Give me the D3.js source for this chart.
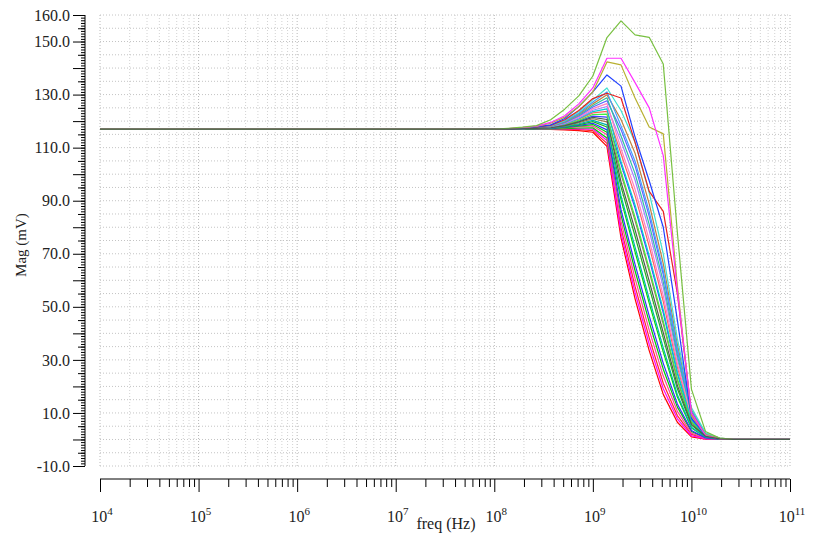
<!DOCTYPE html>
<html>
<head>
<meta charset="utf-8">
<script src="https://cdn.jsdelivr.net/npm/d3@7"></script>
<style>
  body { margin: 0; background: #ffffff; }
  svg { display: block; font-family: "Liberation Serif", "DejaVu Serif", serif; }
</style>
</head>
<body>
<svg id="chart" width="814" height="537"></svg>
<script>
// Sweep frequencies (Hz) shared by every trace
const freqs = [1e4, 1e8, 1.39e8, 1.93e8, 2.68e8, 3.73e8, 5.18e8, 7.2e8, 1e9, 1.39e9, 1.93e9,
               2.68e9, 3.73e9, 5.18e9, 7.2e9, 1e10, 1.39e10, 1.93e10, 2.68e10, 1e11];

// Magnitude (mV) of each corner / parameter run
const run01 = [117.0, 117.0, 117.0, 117.0, 117.0, 116.9, 116.7, 116.4, 115.8, 110.5, 76.0, 53.0, 33.5, 17.0, 6.5, 1.0, 0.1, 0.0, 0.0, 0.0];
const run02 = [117.0, 117.0, 117.0, 117.0, 117.0, 117.0, 116.9, 116.8, 116.4, 111.6, 79.8, 57.7, 38.3, 21.2, 9.0, 1.9, 0.3, 0.0, 0.0, 0.0];
const run03 = [117.0, 117.0, 117.0, 117.0, 117.1, 117.0, 117.1, 117.1, 117.0, 112.7, 77.9, 55.4, 35.9, 19.1, 7.8, 1.4, 0.2, 0.0, 0.0, 0.0];
const run04 = [117.0, 117.0, 117.0, 117.0, 117.1, 117.1, 117.2, 117.4, 117.5, 113.6, 84.6, 63.6, 44.2, 26.5, 12.2, 3.0, 0.5, 0.1, 0.0, 0.0];
const run05 = [117.0, 117.0, 117.0, 117.1, 117.1, 117.2, 117.4, 117.8, 118.2, 114.9, 82.2, 60.7, 41.2, 23.9, 10.6, 2.4, 0.4, 0.1, 0.0, 0.0];
const run06 = [117.0, 117.0, 117.0, 117.1, 117.2, 117.2, 117.5, 118.1, 118.7, 115.8, 90.4, 70.7, 51.4, 32.9, 16.0, 4.3, 0.8, 0.2, 0.0, 0.0];
const run07 = [117.0, 117.0, 117.0, 117.1, 117.2, 117.3, 117.7, 118.4, 119.2, 116.7, 86.6, 66.0, 46.6, 28.7, 13.4, 3.4, 0.6, 0.1, 0.0, 0.0];
const run08 = [117.0, 117.0, 117.0, 117.1, 117.2, 117.4, 117.9, 118.7, 119.8, 117.8, 95.2, 76.6, 57.3, 38.2, 19.1, 5.4, 1.1, 0.2, 0.0, 0.0];
const run09 = [117.0, 117.0, 117.0, 117.1, 117.3, 117.4, 118.0, 119.0, 120.3, 118.6, 91.8, 72.5, 53.1, 34.5, 16.9, 4.6, 0.9, 0.2, 0.0, 0.0];
const run10 = [117.0, 117.0, 117.0, 117.1, 117.3, 117.5, 118.2, 119.4, 120.9, 119.7, 100.0, 82.5, 63.3, 43.5, 22.3, 6.5, 1.3, 0.3, 0.0, 0.0];
const run11 = [117.0, 117.0, 117.0, 117.1, 117.3, 117.5, 118.3, 119.7, 121.4, 120.6, 97.1, 79.0, 59.7, 40.3, 20.4, 5.8, 1.2, 0.2, 0.0, 0.0];
const run12 = [117.0, 117.0, 117.1, 117.2, 117.4, 117.6, 118.5, 120.0, 121.9, 121.5, 103.8, 87.2, 68.0, 47.7, 24.8, 7.4, 1.5, 0.3, 0.0, 0.0];
const run13 = [117.0, 117.0, 117.1, 117.2, 117.4, 117.7, 118.6, 120.3, 122.5, 122.6, 101.0, 83.7, 64.4, 44.6, 22.9, 6.7, 1.3, 0.3, 0.0, 0.0];
const run14 = [117.0, 117.0, 117.1, 117.2, 117.4, 117.7, 118.8, 120.7, 123.1, 123.7, 107.7, 91.9, 72.8, 52.0, 27.3, 8.3, 1.7, 0.3, 0.0, 0.0];
const run15 = [117.0, 117.0, 117.1, 117.2, 117.4, 117.8, 118.9, 120.9, 123.6, 124.6, 104.8, 88.4, 69.2, 48.8, 25.4, 7.6, 1.5, 0.3, 0.0, 0.0];
const run16 = [117.0, 117.0, 117.1, 117.2, 117.5, 117.9, 119.1, 121.2, 124.1, 125.5, 112.5, 97.8, 78.7, 57.3, 30.4, 9.4, 1.9, 0.4, 0.0, 0.0];
const run17 = [117.0, 117.0, 117.1, 117.2, 117.5, 117.9, 119.3, 121.6, 124.7, 126.6, 109.6, 94.3, 75.2, 54.1, 28.6, 8.7, 1.8, 0.4, 0.0, 0.0];
const run18 = [117.0, 117.0, 117.1, 117.2, 117.5, 118.0, 119.4, 121.9, 125.3, 127.7, 116.8, 103.2, 84.1, 62.1, 33.3, 10.4, 2.1, 0.4, 0.0, 0.0];
const run19 = [117.0, 117.0, 117.1, 117.2, 117.6, 118.1, 119.6, 122.3, 125.9, 128.8, 114.4, 100.2, 81.1, 59.4, 31.7, 9.8, 2.0, 0.4, 0.0, 0.0];
const run20 = [117.0, 117.0, 117.1, 117.3, 117.6, 118.1, 119.8, 122.7, 126.5, 129.9, 120.6, 107.9, 88.8, 66.3, 35.8, 11.2, 2.3, 0.5, 0.0, 0.0];
const run21 = [117.0, 117.0, 117.1, 117.3, 117.7, 118.2, 120.0, 123.0, 127.2, 131.0, 118.2, 104.9, 85.9, 63.6, 34.2, 10.7, 2.2, 0.4, 0.0, 0.0];
const run22 = [117.0, 117.0, 117.1, 117.3, 117.7, 118.3, 120.2, 123.5, 128.0, 132.5, 124.0, 112.0, 93.0, 70.0, 38.0, 12.0, 2.5, 0.5, 0.0, 0.0];
const run23 = [117.0, 117.0, 117.1, 117.3, 117.7, 118.4, 120.5, 124.0, 128.5, 130.5, 128.7, 112.0, 93.5, 86.0, 55.0, 10.0, 1.6, 0.3, 0.0, 0.0];
const run24 = [117.0, 117.0, 117.1, 117.3, 117.8, 118.6, 121.0, 125.5, 131.0, 137.4, 133.2, 114.0, 97.5, 80.0, 45.0, 8.0, 1.5, 0.3, 0.0, 0.0];
const run25 = [117.0, 117.0, 117.2, 117.5, 118.0, 119.2, 121.5, 125.5, 131.0, 142.3, 141.2, 128.7, 117.8, 115.2, 58.0, 9.0, 1.8, 0.3, 0.0, 0.0];
const run26 = [117.0, 117.0, 117.2, 117.6, 118.1, 119.5, 122.0, 126.5, 132.5, 143.7, 143.7, 134.5, 125.0, 107.0, 56.0, 10.0, 1.5, 0.2, 0.0, 0.0];
const run27 = [117.0, 117.0, 117.3, 117.7, 118.3, 120.5, 124.5, 129.5, 137.0, 151.5, 157.8, 152.5, 151.6, 141.5, 78.0, 19.0, 3.0, 0.5, 0.0, 0.0];

const runs = [run01, run02, run03, run04, run05, run06, run07, run08, run09, run10, run12,
              run13, run14, run15, run16, run17, run18, run19, run20, run21, run22,
              run23, run24, run25, run26, run27, run11];

// Trace colours, in drawing order
const runColors = ["#ff0000", "#ff2a2a", "#ff00ff", "#00c800", "#ff40a0", "#00e000", "#3030ff",
                   "#20b020", "#00b0b0", "#9a7b4f", "#4040ff", "#40f040", "#ff6060",
                   "#00d0d0", "#a080ff", "#ff80c0", "#6060ff", "#30c0a0", "#c08040", "#40a0ff",
                   "#40e0d0", "#e82020", "#2040ff", "#b8b030", "#ff30ff", "#78c040", "#4a5e4e"];

// Axis tick values
const yLabelValues = [160, 150, 130, 110, 90, 70, 50, 30, 10, -10];
const xDecades = [4, 5, 6, 7, 8, 9, 10, 11];

const svg = d3.select("#chart");
const x = d3.scaleLog().domain([1e4, 1e11]).range([100, 790]);
const y = d3.scaleLinear().domain([-10, 160]).range([466, 15]);

// Dotted grid
const grid = svg.append("g");
const minorFreqs = [];
xDecades.slice(0, -1).forEach(e => {
  for (let k = 2; k <= 9; k++) minorFreqs.push(k * Math.pow(10, e));
});
grid.selectAll("line.vmin").data(minorFreqs).join("line")
  .attr("x1", d => x(d)).attr("x2", d => x(d))
  .attr("y1", y(160)).attr("y2", y(-10))
  .attr("stroke", "#d2d2d2").attr("stroke-dasharray", "1,2");
grid.selectAll("line.vmaj").data(xDecades.map(e => Math.pow(10, e))).join("line")
  .attr("x1", d => x(d)).attr("x2", d => x(d))
  .attr("y1", y(160)).attr("y2", y(-10))
  .attr("stroke", "#b8b8b8").attr("stroke-dasharray", "1,2");
grid.selectAll("line.h").data(d3.range(-10, 161, 5)).join("line")
  .attr("x1", x(1e4)).attr("x2", x(1e11))
  .attr("y1", d => y(d)).attr("y2", d => y(d))
  .attr("stroke", "#c4c4c4").attr("stroke-dasharray", "1,2");

// Traces
const line = d3.line().x((d, i) => x(freqs[i])).y(d => y(d));
svg.append("g").selectAll("path").data(runs).join("path")
  .attr("d", d => line(d))
  .attr("fill", "none")
  .attr("stroke", (d, i) => runColors[i])
  .attr("stroke-width", 1.2)
  .attr("stroke-linejoin", "round");

// Y axis: unit, 5 and 10 ticks
const fmtY = d => d3.format(".1f")(d).replace("\u2212", "-");
const yAxisG = svg.append("g").attr("transform", "translate(85,0)");
yAxisG.append("g").call(d3.axisLeft(y).tickValues(d3.range(-10, 161, 1)).tickSize(4).tickFormat(""))
  .call(g => g.select(".domain").remove());
yAxisG.append("g").call(d3.axisLeft(y).tickValues(d3.range(-5, 161, 10)).tickSize(7).tickFormat(""))
  .call(g => g.select(".domain").remove());
yAxisG.append("g").call(d3.axisLeft(y).tickValues(d3.range(-10, 161, 10)).tickSize(12).tickPadding(3)
    .tickFormat(d => yLabelValues.includes(d) ? fmtY(d) : ""))
  .call(g => g.select(".domain").attr("d", `M0,${y(160)}V${y(-10)}`))
  .call(g => g.selectAll("text").attr("font-family", "Liberation Serif, serif").attr("font-size", 16).attr("fill", "#222"));

// X axis: decade and sub-decade ticks
const xAxisG = svg.append("g").attr("transform", "translate(0,479)");
xAxisG.append("g").call(d3.axisBottom(x).tickValues(minorFreqs).tickSize(8).tickFormat(""))
  .call(g => g.select(".domain").remove());
xAxisG.append("g").call(d3.axisBottom(x).tickValues(xDecades.map(e => Math.pow(10, e))).tickSize(13).tickFormat(""))
  .call(g => g.select(".domain").attr("d", `M${x(1e4)},0H${x(1e11)}`));

const xLabels = svg.append("g").attr("font-size", 16).attr("fill", "#222");
xDecades.forEach(e => {
  const t = xLabels.append("text")
    .attr("x", x(Math.pow(10, e)) + 2)
    .attr("y", 522)
    .attr("text-anchor", "middle");
  t.append("tspan").text("10");
  t.append("tspan").attr("font-size", 11).attr("dy", -7).text(String(e));
});

// Axis titles
svg.append("text")
  .attr("transform", "translate(26,245) rotate(-90)")
  .attr("text-anchor", "middle")
  .attr("font-size", 15)
  .attr("fill", "#222")
  .text("Mag (mV)");
svg.append("text")
  .attr("x", 446).attr("y", 529)
  .attr("text-anchor", "middle")
  .attr("font-size", 16)
  .attr("fill", "#222")
  .text("freq (Hz)");
</script>
</body>
</html>
